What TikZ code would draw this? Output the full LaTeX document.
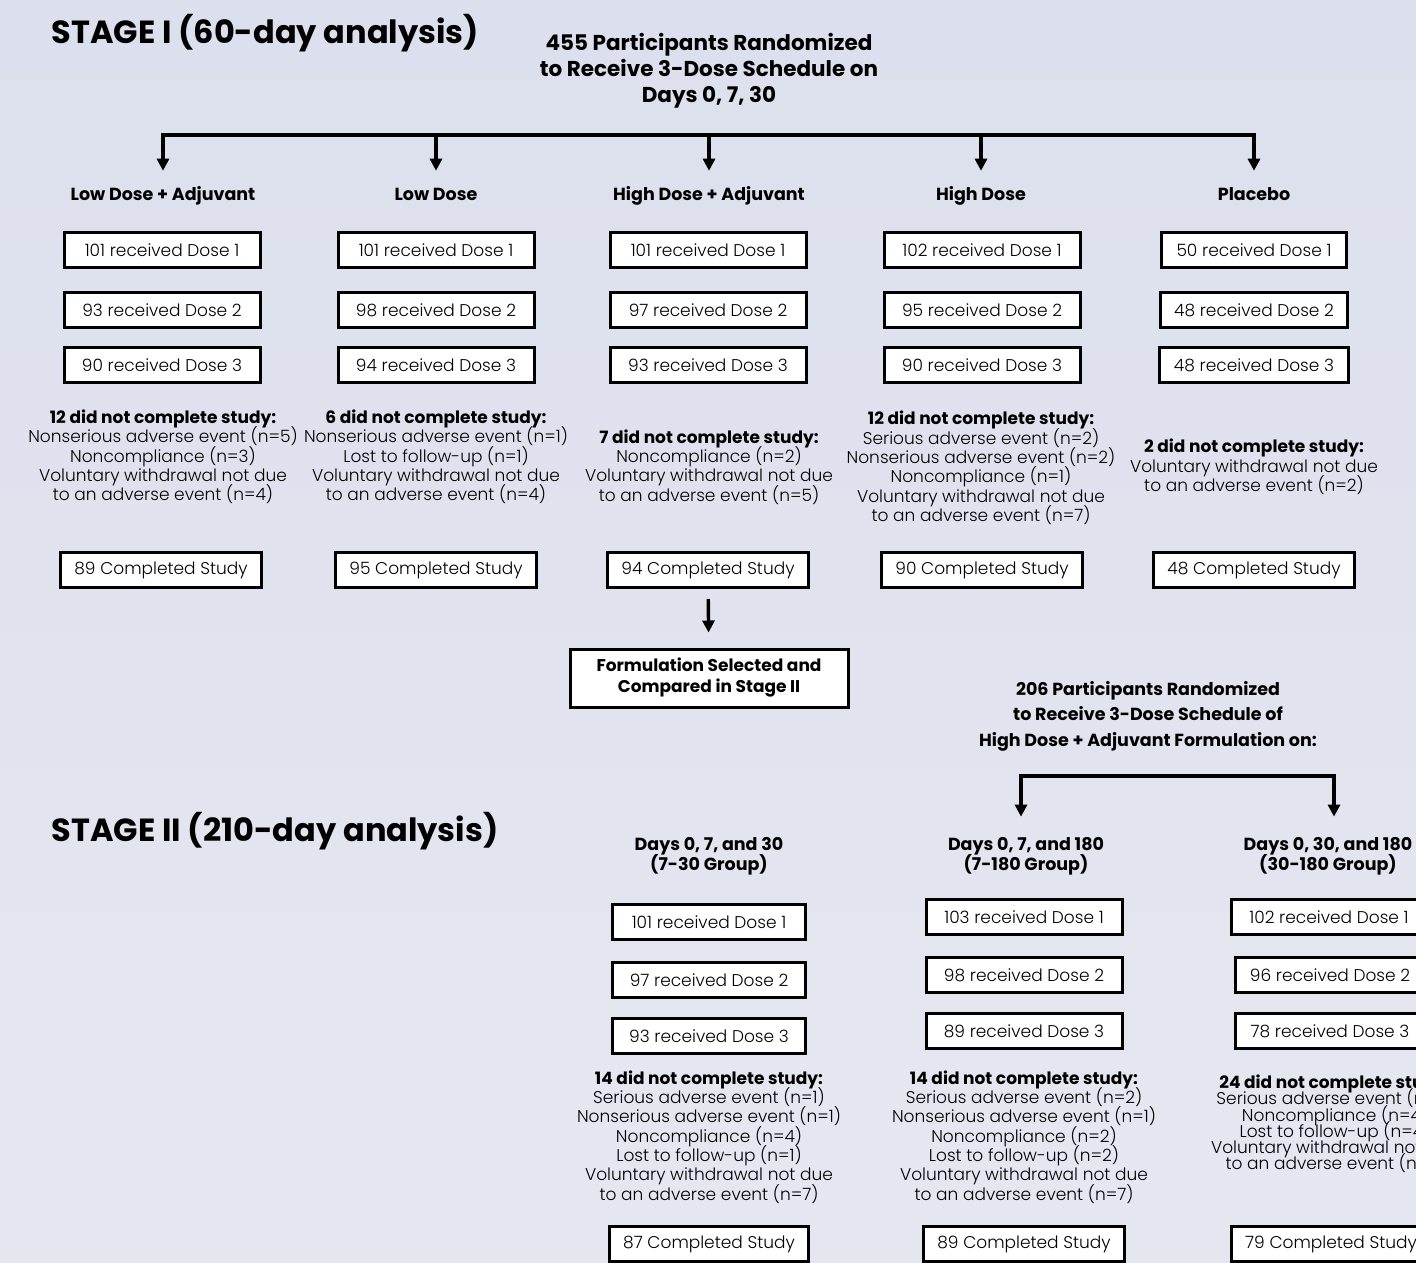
\documentclass[tikz,border=0pt]{standalone}
\usepackage{fontspec}
\setmainfont{Poppins}[UprightFont=* Light, BoldFont=* Bold]
\usetikzlibrary{arrows.meta}
\definecolor{bgtop}{HTML}{DCDFED}
\definecolor{bgbot}{HTML}{E5E7F0}
\lineskiplimit=-50pt
\begin{document}
\begin{tikzpicture}[x=1pt, y=-1pt,
    box/.style={draw, line width=3pt, fill=white, minimum width=196pt, minimum height=35pt, inner xsep=14pt, font=\fontsize{17}{20}\selectfont},
    head/.style={align=center, font=\fontsize{17.5}{20}\selectfont\bfseries},
    arm/.style={head, text height=13pt, text depth=4.5pt},
    drop/.style={align=center, font=\fontsize{17}{19.3}\selectfont},
    stage/.style={anchor=west, font=\fontsize{32}{36}\selectfont\bfseries},
    arrow/.style={-{Triangle[width=12pt,length=12pt]}, line width=3.4pt, shorten >=13pt},
    bar/.style={line width=3.6pt, line cap=rect}
]
    % Background
    \clip (0,0) rectangle (1416,1263);
    \shade[top color=bgtop, bottom color=bgbot] (0,0) rectangle (1416,1263);

    % Stage I
    \node[stage] (st1) at (48,33) {STAGE I (60-day analysis)};
    \node[align=center, font=\fontsize{21.5}{26}\selectfont\bfseries] (rand1) at (709,71)
        {455 Participants Randomized\\to Receive 3-Dose Schedule on\\Days 0, 7, 30};

    \coordinate (b1) at (163,135);
    \coordinate (b2) at (436,135);
    \coordinate (b3) at (709,135);
    \coordinate (b4) at (981,135);
    \coordinate (b5) at (1254,135);
    \draw[bar] (b1) -- (b5);

    \node[arm] (la-h) at (163,196) {Low Dose + Adjuvant};
    \node[arm] (lo-h) at (436,196) {Low Dose};
    \node[arm] (ha-h) at (709,196) {High Dose + Adjuvant};
    \node[arm] (hi-h) at (981,196) {High Dose};
    \node[arm] (pl-h) at (1254,196) {Placebo};

    \draw[arrow] (b1) -- (la-h);
    \draw[arrow] (b2) -- (lo-h);
    \draw[arrow] (b3) -- (ha-h);
    \draw[arrow] (b4) -- (hi-h);
    \draw[arrow] (b5) -- (pl-h);

    % Doses, stage I
    \node[box] (la-d1) at (162,250) {101 received Dose 1};
    \node[box] (la-d2) at (162,310) {93 received Dose 2};
    \node[box] (la-d3) at (162,365) {90 received Dose 3};
    \node[box] (lo-d1) at (436,250) {101 received Dose 1};
    \node[box] (lo-d2) at (436,310) {98 received Dose 2};
    \node[box] (lo-d3) at (436,365) {94 received Dose 3};
    \node[box] (ha-d1) at (708,250) {101 received Dose 1};
    \node[box] (ha-d2) at (708,310) {97 received Dose 2};
    \node[box] (ha-d3) at (708,365) {93 received Dose 3};
    \node[box] (hi-d1) at (982,250) {102 received Dose 1};
    \node[box] (hi-d2) at (982,310) {95 received Dose 2};
    \node[box] (hi-d3) at (982,365) {90 received Dose 3};
    \node[box, minimum width=185pt] (pl-d1) at (1254,250) {50 received Dose 1};
    \node[box, minimum width=185pt] (pl-d2) at (1254,310) {48 received Dose 2};
    \node[box, minimum width=185pt] (pl-d3) at (1254,365) {48 received Dose 3};

    % Withdrawals, stage I
    \node[drop] (la-out) at (163,457) {\textbf{12 did not complete study:}\\Nonserious adverse event (n=5)\\Noncompliance (n=3)\\Voluntary withdrawal not due\\to an adverse event (n=4)};
    \node[drop] (lo-out) at (436,457) {\textbf{6 did not complete study:}\\Nonserious adverse event (n=1)\\Lost to follow-up (n=1)\\Voluntary withdrawal not due\\to an adverse event (n=4)};
    \node[drop] (ha-out) at (709,467) {\textbf{7 did not complete study:}\\Noncompliance (n=2)\\Voluntary withdrawal not due\\to an adverse event (n=5)};
    \node[drop] (hi-out) at (981,468) {\textbf{12 did not complete study:}\\Serious adverse event (n=2)\\Nonserious adverse event (n=2)\\Noncompliance (n=1)\\Voluntary withdrawal not due\\to an adverse event (n=7)};
    \node[drop] (pl-out) at (1254,467) {\textbf{2 did not complete study:}\\Voluntary withdrawal not due\\to an adverse event (n=2)};

    \node[box] (la-done) at (161,570) {89 Completed Study};
    \node[box] (lo-done) at (436,570) {95 Completed Study};
    \node[box] (ha-done) at (708,570) {94 Completed Study};
    \node[box] (hi-done) at (982,570) {90 Completed Study};
    \node[box] (pl-done) at (1254,570) {48 Completed Study};

    \node[box, align=center, minimum width=278pt, minimum height=58pt, font=\fontsize{17}{21}\selectfont\bfseries] (pick) at (709,678)
        {Formulation Selected and\\Compared in Stage II};
    \draw[arrow, shorten <=10pt, shorten >=15pt] (ha-done) -- (pick);

    % Stage II
    \node[stage] (st2) at (48,831) {STAGE II (210-day analysis)};
    \node[align=center, font=\fontsize{17.5}{25.5}\selectfont\bfseries] (rand2) at (1148,716)
        {206 Participants Randomized\\to Receive 3-Dose Schedule of\\High Dose + Adjuvant Formulation on:};

    \coordinate (k1) at (1021,776);
    \coordinate (k2) at (1334,776);
    \draw[bar] (k1) -- (k2);

    \node[head] (s2a-h) at (709,856) {Days 0, 7, and 30\\(7-30 Group)};
    \node[head] (s2b-h) at (1026,856) {Days 0, 7, and 180\\(7-180 Group)};
    \node[head] (s2c-h) at (1328,856) {Days 0, 30, and 180\\(30-180 Group)};

    \draw[arrow, shorten >=17pt] (k1) -- (k1 |- s2b-h.north);
    \draw[arrow, shorten >=17pt] (k2) -- (k2 |- s2c-h.north);

    % Doses, stage II
    \node[box, minimum width=193pt] (s2a-d1) at (709,922) {101 received Dose 1};
    \node[box, minimum width=193pt] (s2a-d2) at (709,980) {97 received Dose 2};
    \node[box, minimum width=193pt] (s2a-d3) at (709,1036) {93 received Dose 3};
    \node[box] (s2b-d1) at (1024,917) {103 received Dose 1};
    \node[box] (s2b-d2) at (1024,975) {98 received Dose 2};
    \node[box] (s2b-d3) at (1024,1031) {89 received Dose 3};
    \node[box] (s2c-d1) at (1329,917) {102 received Dose 1};
    \node[box, minimum width=190pt] (s2c-d2) at (1330,975) {96 received Dose 2};
    \node[box, minimum width=190pt] (s2c-d3) at (1330,1031) {78 received Dose 3};

    % Withdrawals, stage II
    \node[drop] (s2a-out) at (709,1137) {\textbf{14 did not complete study:}\\Serious adverse event (n=1)\\Nonserious adverse event (n=1)\\Noncompliance (n=4)\\Lost to follow-up (n=1)\\Voluntary withdrawal not due\\to an adverse event (n=7)};
    \node[drop] (s2b-out) at (1024,1137) {\textbf{14 did not complete study:}\\Serious adverse event (n=2)\\Nonserious adverse event (n=1)\\Noncompliance (n=2)\\Lost to follow-up (n=2)\\Voluntary withdrawal not due\\to an adverse event (n=7)};
    \node[drop, font=\fontsize{17}{16.3}\selectfont] (s2c-out) at (1335,1124) {\textbf{24 did not complete study:}\\Serious adverse event (n=4)\\Noncompliance (n=4)\\Lost to follow-up (n=4)\\Voluntary withdrawal not due\\to an adverse event (n=7)};

    \node[box, minimum width=193pt] (s2a-done) at (709,1244) {87 Completed Study};
    \node[box] (s2b-done) at (1024,1244) {89 Completed Study};
    \node[box] (s2c-done) at (1331,1244) {79 Completed Study};
\end{tikzpicture}
\end{document}
